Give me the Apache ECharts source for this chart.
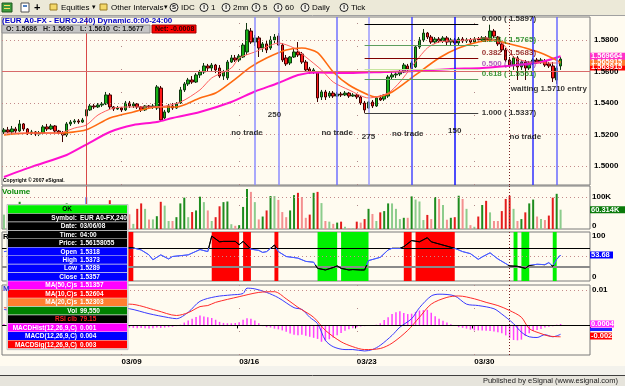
<!DOCTYPE html>
<html>
<head>
<meta charset="utf-8">
<script src="https://cdn.jsdelivr.net/npm/echarts@6/dist/echarts.min.js"></script>
<style>
  html, body { margin: 0; padding: 0; background: #fffbf0; }
  #chart { width: 625px; height: 386px; }
</style>
</head>
<body>
<div id="chart"></div>
<script>
// ---- price bars (4h EUR A0-FX) ----
const opens = [1.5216,1.5229,1.5216,1.5235,1.5222,1.5267,1.5235,1.5209,1.5216,1.5203,
  1.5209,1.5248,1.5235,1.5254,1.5222,1.5209,1.5197,1.5267,1.5279,1.5286,
  1.5279,1.5318,1.5356,1.5381,1.5375,1.5387,1.5394,1.5451,1.5375,1.5362,
  1.5368,1.5356,1.5400,1.5381,1.5394,1.5375,1.5356,1.5381,1.5375,1.5368,
  1.5495,1.5305,1.5343,1.5381,1.5368,1.5400,1.5483,1.5521,1.5546,1.5533,
  1.5578,1.5597,1.5635,1.5622,1.5641,1.5622,1.5571,1.5559,1.5660,1.5686,
  1.5673,1.5692,1.5724,1.5857,1.5787,1.5813,1.5749,1.5775,1.5749,1.5800,
  1.5825,1.5768,1.5686,1.5654,1.5692,1.5724,1.5711,1.5660,1.5616,1.5597,
  1.5597,1.5438,1.5470,1.5444,1.5463,1.5444,1.5457,1.5451,1.5463,1.5444,
  1.5451,1.5438,1.5400,1.5368,1.5406,1.5381,1.5432,1.5425,1.5444,1.5565,
  1.5578,1.5584,1.5597,1.5635,1.5616,1.5629,1.5756,1.5800,1.5844,1.5819,
  1.5787,1.5806,1.5794,1.5813,1.5787,1.5800,1.5781,1.5806,1.5794,1.5800,
  1.5787,1.5806,1.5800,1.5813,1.5800,1.5857,1.5819,1.5775,1.5737,1.5673,
  1.5641,1.5686,1.5629,1.5660,1.5622,1.5654,1.5673,1.5660,1.5667,1.5648,
  1.5635,1.5546,1.5635];
const closes = [1.5229,1.5216,1.5235,1.5222,1.5267,1.5235,1.5209,1.5216,1.5203,1.5209,
  1.5248,1.5235,1.5254,1.5222,1.5209,1.5197,1.5267,1.5279,1.5286,1.5279,
  1.5292,1.5357,1.5381,1.5375,1.5387,1.5394,1.5451,1.5375,1.5362,1.5368,
  1.5356,1.5400,1.5381,1.5394,1.5375,1.5356,1.5381,1.5375,1.5381,1.5502,
  1.5292,1.5343,1.5381,1.5368,1.5394,1.5483,1.5521,1.5546,1.5533,1.5578,
  1.5597,1.5635,1.5622,1.5641,1.5610,1.5571,1.5597,1.5660,1.5686,1.5673,
  1.5698,1.5768,1.5864,1.5787,1.5813,1.5749,1.5775,1.5737,1.5800,1.5819,
  1.5768,1.5673,1.5648,1.5692,1.5724,1.5705,1.5660,1.5610,1.5597,1.5610,
  1.5432,1.5470,1.5438,1.5463,1.5444,1.5457,1.5451,1.5463,1.5444,1.5451,
  1.5438,1.5400,1.5356,1.5406,1.5381,1.5432,1.5419,1.5451,1.5565,1.5578,
  1.5584,1.5597,1.5641,1.5616,1.5654,1.5756,1.5800,1.5844,1.5819,1.5787,
  1.5806,1.5794,1.5813,1.5787,1.5800,1.5781,1.5806,1.5794,1.5800,1.5787,
  1.5806,1.5800,1.5813,1.5800,1.5857,1.5825,1.5775,1.5737,1.5673,1.5641,
  1.5686,1.5629,1.5660,1.5622,1.5654,1.5673,1.5660,1.5673,1.5641,1.5635,
  1.5559,1.5622,1.5679];
const lows = [1.5203,1.5209,1.5203,1.5209,1.5216,1.5222,1.5197,1.5197,1.5190,1.5190,
  1.5203,1.5222,1.5229,1.5209,1.5197,1.5152,1.5184,1.5254,1.5267,1.5267,
  1.5273,1.5289,1.5349,1.5362,1.5368,1.5375,1.5387,1.5362,1.5349,1.5356,
  1.5343,1.5349,1.5368,1.5368,1.5362,1.5343,1.5349,1.5362,1.5362,1.5356,
  1.5279,1.5298,1.5336,1.5356,1.5362,1.5394,1.5470,1.5508,1.5521,1.5527,
  1.5559,1.5584,1.5603,1.5597,1.5590,1.5559,1.5546,1.5546,1.5654,1.5660,
  1.5660,1.5686,1.5705,1.5775,1.5762,1.5692,1.5724,1.5717,1.5737,1.5781,
  1.5762,1.5660,1.5635,1.5641,1.5686,1.5692,1.5648,1.5597,1.5584,1.5584,
  1.5406,1.5419,1.5419,1.5432,1.5432,1.5438,1.5438,1.5444,1.5432,1.5438,
  1.5425,1.5387,1.5337,1.5362,1.5368,1.5375,1.5413,1.5413,1.5432,1.5552,
  1.5559,1.5571,1.5590,1.5603,1.5610,1.5622,1.5743,1.5787,1.5806,1.5775,
  1.5775,1.5781,1.5781,1.5768,1.5768,1.5762,1.5768,1.5781,1.5781,1.5775,
  1.5781,1.5787,1.5787,1.5787,1.5794,1.5813,1.5762,1.5724,1.5660,1.5622,
  1.5610,1.5546,1.5610,1.5546,1.5610,1.5641,1.5648,1.5648,1.5629,1.5622,
  1.5533,1.5521,1.5610];
const highs = [1.5241,1.5248,1.5254,1.5248,1.5292,1.5273,1.5241,1.5229,1.5222,1.5222,
  1.5260,1.5267,1.5267,1.5260,1.5229,1.5222,1.5279,1.5292,1.5298,1.5298,
  1.5305,1.5373,1.5394,1.5394,1.5400,1.5406,1.5470,1.5463,1.5381,1.5381,
  1.5375,1.5413,1.5413,1.5406,1.5400,1.5381,1.5387,1.5387,1.5394,1.5514,
  1.5508,1.5356,1.5394,1.5400,1.5406,1.5502,1.5533,1.5559,1.5571,1.5590,
  1.5610,1.5654,1.5648,1.5654,1.5648,1.5641,1.5610,1.5673,1.5705,1.5705,
  1.5711,1.5781,1.5908,1.5876,1.5832,1.5825,1.5787,1.5800,1.5825,1.5838,
  1.5844,1.5781,1.5705,1.5698,1.5749,1.5787,1.5724,1.5673,1.5629,1.5622,
  1.5603,1.5483,1.5483,1.5476,1.5476,1.5470,1.5470,1.5476,1.5470,1.5463,
  1.5457,1.5444,1.5413,1.5413,1.5419,1.5438,1.5451,1.5457,1.5578,1.5597,
  1.5597,1.5610,1.5654,1.5648,1.5667,1.5768,1.5819,1.5870,1.5851,1.5832,
  1.5819,1.5819,1.5825,1.5825,1.5813,1.5813,1.5819,1.5819,1.5813,1.5813,
  1.5819,1.5819,1.5825,1.5825,1.5897,1.5870,1.5825,1.5787,1.5749,1.5692,
  1.5698,1.5698,1.5673,1.5673,1.5667,1.5686,1.5686,1.5686,1.5679,1.5660,
  1.5660,1.5635,1.5692];

// volume in thousands
const volumes = [45,38,52,40,85,48,35,30,42,36,60,44,50,38,33,62,80,55,40,35,
  48,99.55,58,40,36,44,70,90,52,40,35,55,46,
  16,63,80,63,30,30,40,85,73,25,25,37,80,98,37,53,58,101,84,58,25,37,71,84,86,15,10,12,
  69,125,116,84,30,39,58,103,103,91,53,37,58,106,
  113,100,35,45,113,116,81,25,23,16,20,23,7,2,2,23,20,31,63,47,25,52,56,80,80,63,31,35,35,
  102,92,86,28,44,31,100,94,75,29,35,37,104,94,63,12,7,39,75,88,52,25,25,56,94,104,63,25,
  31,52,80,92,39,31,28,42,98,110,60.314];

// moving averages (sampled bar index -> value)
const ma50Idx = [0,7,16,21,27,33,39,43,50,58,64,70,75,80,88,97,105,114,122,131,137,142];
const ma50Val = [1.4930,1.4994,1.5070,1.5136,1.5216,1.5260,1.5279,1.5305,1.5343,1.5406,1.5473,
  1.5527,1.5578,1.5594,1.5590,1.5597,1.5603,1.5616,1.5622,1.5641,1.5660,1.5697];
const ma20Idx = [0,7,14,21,27,33,39,44,50,54,58,63,67,72,76,80,84,88,93,95,99,105,111,116,121,125,128,133,137,142];
const ma20Val = [1.5197,1.5209,1.5209,1.5230,1.5305,1.5343,1.5375,1.5375,1.5432,1.5463,1.5533,
  1.5629,1.5686,1.5737,1.5749,1.5720,1.5597,1.5514,1.5451,1.5438,1.5470,1.5578,1.5686,1.5749,
  1.5787,1.5800,1.5781,1.5749,1.5717,1.5659];
const ma10Idx = [0,14,18,21,24,28,33,39,45,50,53,58,60,64,67,70,74,77,81,84,88,93,98,101,104,108,111,118,123,127,130,134,139,142];
const ma10Val = [1.5209,1.5209,1.5241,1.5260,1.5324,1.5368,1.5375,1.5375,1.5406,1.5483,1.5559,
  1.5622,1.5686,1.5724,1.5756,1.5781,1.5749,1.5692,1.5610,1.5533,1.5483,1.5432,1.5463,1.5533,
  1.5629,1.5749,1.5787,1.5800,1.5813,1.5781,1.5692,1.5660,1.5654,1.5654];

// RSI
const rsiIdx = [0,4,8,12,16,21,25,28,31,33,35,37,38,40,42,43,47,50,52,53,55,56,59,60,61,63,65,66,67,69,70,
  72,75,77,79,80,82,84,85,86,88,89,91,92,93,96,98,99,101,102,104,106,108,109,112,115,117,119,121,122,124,
  126,129,131,133,134,136,138,139,140,141,142];
const rsiVal = [62,66,52,58,64,79,82,70,72,71,66,54,42,54,44,50,54,67,62,100,86,87,87,79,87,68,65,60,62,78,62,
  50,46,38,36,21,17,23,27,21,17,18,17,17,40,48,66,70,70,74,89,86,96,86,78,70,62,57,43,49,59,
  44,27,26,21,28,31,30,35,26,43,53.68];
const obBands = [[30,33],[53,60],[61,63],[69,70],[102,104],[105,115]];
const osBands = [[80,85],[86,93],[130,131],[132,134],[140,141]];
const markBand = [[135,135]];

// MACD(12,26,9)
const macdIdx = [0,8,16,24,32,37,42,44,47,50,54,58,61,62,64,67,70,74,76,78,80,82,84,87,89,92,94,96,99,101,
  104,106,109,111,115,118,121,125,127,130,132,134,136,138,140,142];
const macdVal = [0.0045,0.0035,0.0040,0.0055,0.0047,0.0033,0.0022,0.0019,0.0037,0.0068,0.0081,0.0086,0.0090,
  0.0105,0.0103,0.0093,0.0078,0.0050,0.0045,0.0023,0.0005,-0.0042,-0.0060,-0.0068,-0.0068,-0.0072,-0.0068,
  -0.0056,-0.0028,-0.0005,0.0019,0.0050,0.0083,0.0088,0.0083,0.0060,0.0056,0.0047,0.0032,0.0005,-0.0019,
  -0.0032,-0.0034,-0.0026,-0.0032,-0.0025];
const sigIdx = [0,8,16,24,32,39,44,47,50,52,54,60,65,69,72,75,79,82,86,89,92,96,99,103,106,109,113,116,120,
  123,126,129,132,134,137,139,142];
const sigVal = [0.0050,0.0042,0.0040,0.0048,0.0060,0.0042,0.0028,0.0036,0.0053,0.0056,0.0065,0.0081,0.0093,
  0.0095,0.0075,0.0051,0.0023,-0.0014,-0.0046,-0.0060,-0.0068,-0.0065,-0.0050,-0.0014,0.0023,0.0060,0.0079,
  0.0083,0.0075,0.0065,0.0056,0.0042,0.0023,-0.0009,-0.0023,-0.0030,-0.0032];
const macdHist = [0.0004,0.0006,0.0008,0.0007,0.0005,0.0002,-0.0002,-0.0005,-0.0007,-0.0008,
  -0.0006,-0.0004,-0.0001,0.0002,0.0004,0.0003,0.0001,0.0003,0.0006,0.0009,
  0.0011,0.0010,0.0012,0.0010,0.0008,0.0007,0.0009,0.0006,0.0002,-0.0002,
  -0.0004,-0.0005,-0.0006,-0.0007,-0.0008,-0.0007,-0.0008,-0.0009,-0.0008,-0.0006,
  -0.0007,-0.0006,-0.0005,-0.0004,-0.0002,0.0002,0.0008,0.0014,0.0019,0.0024,
  0.0028,0.0025,0.0023,0.0021,0.0016,0.0010,0.0007,0.0006,0.0006,0.0007,
  0.0009,0.0016,0.0020,0.0019,0.0014,0.0006,-0.0002,-0.0005,-0.0006,-0.0009,
  -0.0011,-0.0014,-0.0018,-0.0023,-0.0026,-0.0028,-0.0026,-0.0029,-0.0032,-0.0035,
  -0.0038,-0.0046,-0.0043,-0.0039,-0.0034,-0.0028,-0.0021,-0.0015,-0.0011,-0.0008,
  -0.0005,-0.0003,-0.0002,-0.0001,0.0000,0.0002,0.0006,0.0015,0.0023,0.0032,
  0.0037,0.0040,0.0035,0.0032,0.0033,0.0038,0.0042,0.0043,0.0044,0.0036,
  0.0026,0.0019,0.0013,0.0008,0.0003,-0.0001,-0.0005,-0.0007,-0.0009,-0.0012,
  -0.0014,-0.0014,-0.0014,-0.0015,-0.0016,-0.0017,-0.0019,-0.0022,-0.0028,-0.0036,
  -0.0041,-0.0042,-0.0040,-0.0030,-0.0022,-0.0016,-0.0013,-0.0010,-0.0006,-0.0004,
  -0.0002,0.0002,0.0004];

// Fibonacci retracement
const fibLevels = ['0.000', '0.236', '0.382', '0.500', '0.618', '1.000'];
const fibPrices = [1.5897, 1.5765, 1.5683, 1.5617, 1.5551, 1.5337];
const fibFrom = 92, fibTo = 121;

// notes on the chart
const noteIdx = [62, 69, 85, 93, 103, 115, 133, 139];
const notePrice = [1.5210, 1.5324, 1.5210, 1.5184, 1.5203, 1.5222, 1.5184, 1.5489];
const noteText = ['no trade', '250', 'no trade', '275', 'no trade', '150', 'no trade', 'waiting 1.5710 entry'];

// axis ticks and markers
const priceTicks = [1.58, 1.56, 1.54, 1.52, 1.50];
const volTicks = [100, 0];
const rsiTicks = [100, 0];
const macdTicks = [0.01];
const dateIdx = [30, 60, 90, 120];
const dateLbl = ['03/09', '03/16', '03/23', '03/30'];
const tradeLines = [64, 70, 85, 93, 104, 115, 135, 141];
const cursorIdx = 21, cursorPrice = 1.5616, todayIdx = 129;

const NCAT = 150;
const FONT = '"Liberation Sans", Arial, sans-serif';
const cats = [];
for (let i = 0; i < NCAT; i++) cats.push(String(i));

const pairs = (xs, ys) => xs.map((x, k) => [x, ys[k]]);
const candleData = opens.map((o, i) => [o, closes[i], lows[i], highs[i]]);
const volData = volumes.map((v, i) => {
  const up = closes[i] >= opens[i];
  const rose = i > 0 && v > volumes[i - 1];
  let c = up ? (rose ? '#1e8c1e' : '#8ccc8c') : (rose ? '#e41c1c' : '#f49090');
  if (i === cursorIdx) c = '#5b7cff';
  return { value: v, itemStyle: { color: c } };
});

const dotted = { color: '#c48a8a', type: [1, 3], width: 1 };
const sparse = { color: '#b08a8a', type: [1, 22], width: 1 };
const vDates = dateIdx.map(i => ({ xAxis: i, lineStyle: sparse }));
const todayLine = { xAxis: todayIdx, lineStyle: { color: '#7a2020', type: [1, 2], width: 1 } };
const cursorLine = { xAxis: cursorIdx, lineStyle: { color: '#d84848', width: 1, type: 'solid' } };

const fibLine = ['#000000', '#5e9e5e', '#800000', '#c8e6a0', '#5e9e5e', '#404040'];
const fibText = ['#000000', '#108010', '#800000', '#9a3cb0', '#108010', '#000000'];
const tradeColors = ['#8c8cff', '#8c8cff', '#7070ff', '#9a9aff', '#4848ff', '#1010ff', '#3030ff', '#6a6aff'];

const mk = (data) => ({ silent: true, symbol: ['none', 'none'], animation: false,
  label: { show: false }, emphasis: { disabled: true }, data });

const grids = [
  { top: 17, height: 168 },
  { top: 186, height: 43 },
  { top: 232, height: 49 },
  { top: 285, height: 70 }
];
const yRanges = [[1.487925, 1.594603], [0, 134.4], [-10, 110], [-0.008333, 0.011389]];

const option = {
  animation: false,
  backgroundColor: '#fffbf0',
  grid: grids.map(g => ({ left: 2, right: 35, top: g.top, height: g.height, show: true,
    backgroundColor: '#fffbf0', borderColor: '#7a7a7a', borderWidth: 1 })),
  xAxis: grids.map((g, k) => ({
    type: 'category', gridIndex: k, data: cats, boundaryGap: true,
    axisLine: { show: false },
    axisTick: k === 3 ? { show: true, length: 3, lineStyle: { color: '#000' },
      interval: (i) => dateIdx.indexOf(i) >= 0 } : { show: false },
    axisLabel: k === 3 ? { show: true, interval: (i) => dateIdx.indexOf(i) >= 0,
      formatter: (v, i) => dateLbl[dateIdx.indexOf(i)] || '', align: 'left', margin: 3,
      fontFamily: FONT, fontWeight: 'bold', fontSize: 8, color: '#000' } : { show: false },
    splitLine: { show: false }
  })),
  yAxis: yRanges.map((r, k) => ({
    type: 'value', gridIndex: k, min: r[0], max: r[1], position: 'right', scale: true,
    axisLine: { show: false }, axisTick: { show: false }, axisLabel: { show: false },
    splitLine: { show: false }
  })),
  visualMap: [{
    type: 'piecewise', show: false, seriesIndex: 5, dimension: 1,
    pieces: [{ lt: 30, color: '#000000' }, { gte: 30, lt: 70, color: '#4a5cff' }, { gte: 70, color: '#000000' }]
  }],
  series: [
    { type: 'candlestick', xAxisIndex: 0, yAxisIndex: 0, data: candleData, barWidth: 3,
      itemStyle: { color: '#16b016', color0: '#ff1a1a', borderColor: '#103810', borderColor0: '#400000', borderWidth: 1 },
      markLine: mk([].concat(
        priceTicks.map(v => ({ yAxis: v, lineStyle: dotted })),
        vDates,
        tradeLines.map((i, k) => ({ xAxis: i, lineStyle: { color: tradeColors[k], width: 1.5, type: 'solid' } })),
        [cursorLine, todayLine,
         { yAxis: cursorPrice, lineStyle: { color: '#d86a6a', width: 1, type: 'solid' } }],
        fibPrices.map((p, k) => [{ coord: [fibFrom, p], lineStyle: { color: fibLine[k], width: 1, type: 'solid' } },
                                 { coord: [fibTo, p] }])
      )) },
    { type: 'line', xAxisIndex: 0, yAxisIndex: 0, data: pairs(ma50Idx, ma50Val), showSymbol: false,
      smooth: 0.25, lineStyle: { color: '#ff10d0', width: 2 } },
    { type: 'line', xAxisIndex: 0, yAxisIndex: 0, data: pairs(ma20Idx, ma20Val), showSymbol: false,
      smooth: 0.25, lineStyle: { color: '#ff6a10', width: 1.6 } },
    { type: 'line', xAxisIndex: 0, yAxisIndex: 0, data: pairs(ma10Idx, ma10Val), showSymbol: false,
      smooth: 0.25, lineStyle: { color: '#ff6060', width: 1 } },
    { type: 'bar', xAxisIndex: 1, yAxisIndex: 1, data: volData, barWidth: 2,
      markLine: mk([{ yAxis: 100, lineStyle: dotted }].concat(vDates, [cursorLine, todayLine])) },
    { type: 'line', xAxisIndex: 2, yAxisIndex: 2, data: pairs(rsiIdx, rsiVal), showSymbol: false,
      lineStyle: { width: 1 }, z: 5,
      markArea: { silent: true, data: [].concat(
        obBands.map(b => [{ xAxis: b[0], itemStyle: { color: '#ff0000' } }, { xAxis: b[1] }]),
        osBands.map(b => [{ xAxis: b[0], itemStyle: { color: '#00f000' } }, { xAxis: b[1] }]),
        markBand.map(b => [{ xAxis: b[0], itemStyle: { color: '#9a9aff' } }, { xAxis: b[1] }])) },
      markLine: mk([
        { yAxis: 70, lineStyle: { color: '#000000', width: 1.2, type: 'solid' } },
        { yAxis: 25, lineStyle: { color: '#8a8a8a', width: 2, type: 'solid' } },
        { yAxis: 50, lineStyle: dotted }, todayLine]) },
    { type: 'bar', xAxisIndex: 3, yAxisIndex: 3, data: macdHist, barWidth: 1.5,
      itemStyle: { color: '#ff40ff' },
      markLine: mk([{ yAxis: 0, lineStyle: { color: '#000', width: 1, type: 'solid' } },
        { yAxis: 0.01, lineStyle: dotted }].concat(vDates, [todayLine])) },
    { type: 'line', xAxisIndex: 3, yAxisIndex: 3, data: pairs(macdIdx, macdVal), showSymbol: false,
      smooth: 0.3, lineStyle: { color: '#3a3aff', width: 1 } },
    { type: 'line', xAxisIndex: 3, yAxisIndex: 3, data: pairs(sigIdx, sigVal), showSymbol: false,
      smooth: 0.3, lineStyle: { color: '#ff2a2a', width: 1 } },
    { type: 'scatter', xAxisIndex: 0, yAxisIndex: 0, symbolSize: 1, silent: true, z: 10,
      itemStyle: { color: 'rgba(0,0,0,0)' },
      data: [].concat(
        noteText.map((t, k) => ({ value: [noteIdx[k], notePrice[k]],
          label: { show: true, position: 'inside', formatter: t, color: '#000',
            fontFamily: FONT, fontWeight: 'bold', fontSize: 8 } })),
        fibLevels.map((lv, k) => ({ value: [fibTo, fibPrices[k]],
          label: { show: true, position: k === 5 ? [4, -4] : [4, -9], formatter: lv + ' ( ' + fibPrices[k].toFixed(4) + ')',
            color: fibText[k], fontFamily: FONT, fontWeight: 'bold', fontSize: 8 } })))
    }
  ]
};

const chart = echarts.init(document.getElementById('chart'), null, { renderer: 'canvas' });
chart.setOption(option);

// ---------- text furniture ----------
const g = [];
const txt = (x, y, s, o) => g.push(Object.assign({ type: 'text', x, y, z: 100, silent: true,
  style: Object.assign({ text: s, fill: '#000', font: 'bold 8px ' + FONT,
    textAlign: 'left', textVerticalAlign: 'middle', align: 'left', verticalAlign: 'middle' }, (o || {}).style) }, (o || {}).el));
const box = (x, y, w, h, fill, stroke) => g.push({ type: 'rect', z: 99, silent: true,
  shape: { x, y, width: w, height: h }, style: { fill, stroke: stroke || null, lineWidth: stroke ? 1 : 0 } });

// toolbar
box(0, 0, 625, 15, '#ece9d8');
g.push({ type: 'line', z: 99, silent: true, shape: { x1: 0, y1: 15.5, x2: 625, y2: 15.5 }, style: { stroke: '#a0a0a0' } });
box(2, 3, 10, 9, '#3d9a3d', '#1f5a1f');
box(4, 5, 6, 1, '#ffe060'); box(4, 8, 6, 1, '#ffe060');
box(21, 3, 8, 9, '#ffffff', '#505050'); box(23, 5, 4, 2, '#5080c0');
txt(34, 7.5, '+', { style: { font: 'bold 11px ' + FONT } });
const tb = [[50, 'Equities', 92], [100, 'Other Intervals', 164]];
tb.forEach(t => { box(t[0], 4, 7, 6, '#f4d868', '#9a7a20'); txt(t[0] + 11, 7.5, t[1], { style: { font: '8px ' + FONT } });
  txt(t[2], 7.5, '\u25BE', { style: { font: '7px "DejaVu Sans"' } }); });
const circ = [[174, 'S', 'IDC'], [204, 'I', '1'], [226, 'I', '2mn'], [256, 'I', '5'], [278, 'I', '60'], [305, 'I', 'Daily'], [344, 'I', 'Tick']];
circ.forEach(c => {
  g.push({ type: 'circle', z: 99, silent: true, shape: { cx: c[0], cy: 7.5, r: 4 }, style: { fill: '#f6f4ec', stroke: '#202020' } });
  txt(c[0], 7.5, c[1], { style: { font: 'bold 6px ' + FONT, textAlign: 'center', align: 'center' } });
  txt(c[0] + 7, 7.5, c[2], { style: { font: '8px ' + FONT } });
});

// header
txt(2, 20.5, '(EUR A0-FX - EURO.240) Dynamic.0:00-24:00', { style: { fill: '#0000c8' } });
box(2, 25, 148, 8, '#c4c4c4', '#909090');
[[6, 'O: 1.5686'], [43, 'H: 1.5690'], [80, 'L: 1.5610'], [113, 'C: 1.5677']].forEach(t =>
  txt(t[0], 29.5, t[1], { style: { font: 'bold 7px ' + FONT, fill: '#202020' } }));
box(152, 25, 44, 8, '#ff0000', '#a00000');
txt(155, 29.5, 'Net: -0.0008', { style: { font: 'bold 7px ' + FONT, fill: '#300000' } });
txt(3, 181, 'Copyright \u00A9 2007 eSignal.', { style: { font: 'bold 5px ' + FONT } });
txt(2, 192, 'Volume', { style: { fill: '#0a8a0a' } });
txt(3, 237, 'R');
txt(3, 289, 'M', { style: { fill: '#3030d0' } });

// right-side scale labels from the axes
const yPix = (k, v) => chart.convertToPixel({ yAxisIndex: k }, v);
priceTicks.forEach(v => txt(594, yPix(0, v), v.toFixed(4)));
volTicks.forEach(v => txt(592, yPix(1, v) - (v === 0 ? 3 : 0), v ? v + 'K' : '0'));
rsiTicks.forEach(v => txt(592, yPix(2, v), String(v)));
macdTicks.forEach(v => txt(592, yPix(3, v), String(v)));

// value tags
const tag = (y, s, bg, fg, w) => { box(590, y - 3.5, w || 35, 7, bg); txt(591, y, s, { style: { fill: fg || '#fff', font: 'bold 7.5px ' + FONT } }); };
tag(yPix(0, 1.5635) + 1, '1.563915', '#ff0000');
tag(yPix(0, 1.565915), '1.565915', '#ff7a30');
tag(yPix(0, 1.569664), '1.569664', '#ff30c8');
tag(yPix(1, volumes[volumes.length - 1]) , '60.314K', '#0a7a0a');
tag(yPix(2, rsiVal[rsiVal.length - 1]), '53.68', '#0000ff', '#fff', 23);
tag(yPix(3, macdHist[macdHist.length - 1]), '0.0004', '#ff30ff', '#fff', 24);
box(590, yPix(3, 0.0004) + 4, 22, 3, '#2020ff');
tag(yPix(3, macdHist[macdHist.length - 1]) + 12, '-0.002', '#ff0000', '#fff', 22);

// cursor info box
const infoRows = [
  ['OK', '', '#00ee00', '#000'],
  ['Symbol:', 'EUR A0-FX,240', '#000000'], ['Date:', '03/06/08', '#000000'],
  ['Time:', '04:00', '#000000'], ['Price:', '1.56158055', '#000000'],
  ['Open', '1.5318', '#0000ff'], ['High', '1.5373', '#0000ff'], ['Low', '1.5289', '#0000ff'], ['Close', '1.5357', '#0000ff'],
  ['MA(50,C)s', '1.51357', '#ff00ff'], ['MA(10,C)s', '1.52604', '#ff0000'], ['MA(20,C)s', '1.52303', '#ff7f30'],
  ['Vol', '99,550', '#008000'], ['RSI clb', '79.15', '#000000', '#ff2020'],
  ['MACDHist(12,26,9,C)', '0.001', '#ff00ff'], ['MACD(12,26,9,C)', '0.004', '#0000ff'], ['MACDSig(12,26,9,C)', '0.003', '#ff0000']
];
const RH = 8.45;
box(7, 204.5, 121, infoRows.length * RH + 1.5, '#e8e8e8', '#c0c0c0');
infoRows.forEach((r, k) => {
  const y = 205.3 + k * RH;
  box(8, y, 119, RH - 0.6, r[2]);
  const f = 'bold 6.5px ' + FONT, col = r[3] || '#fff';
  if (k === 0) { txt(67, y + RH / 2, r[0], { style: { fill: col, font: f, textAlign: 'center', align: 'center' } }); return; }
  txt(77, y + RH / 2, r[0], { style: { fill: col, font: f, textAlign: 'right', align: 'right' } });
  txt(80, y + RH / 2, r[1], { style: { fill: col, font: f } });
});

// status bar
box(0, 366, 625, 9, '#f3f2ec');
g.push({ type: 'line', z: 99, silent: true, shape: { x1: 0, y1: 375.5, x2: 625, y2: 375.5 }, style: { stroke: '#404040' } });
box(0, 376, 625, 10, '#e6e4dc');
txt(618, 381, 'Published by eSignal (www.esignal.com)', { style: { font: '7.5px ' + FONT, fill: '#202020', textAlign: 'right', align: 'right' } });

chart.setOption({ graphic: { elements: g } });
</script>
</body>
</html>
